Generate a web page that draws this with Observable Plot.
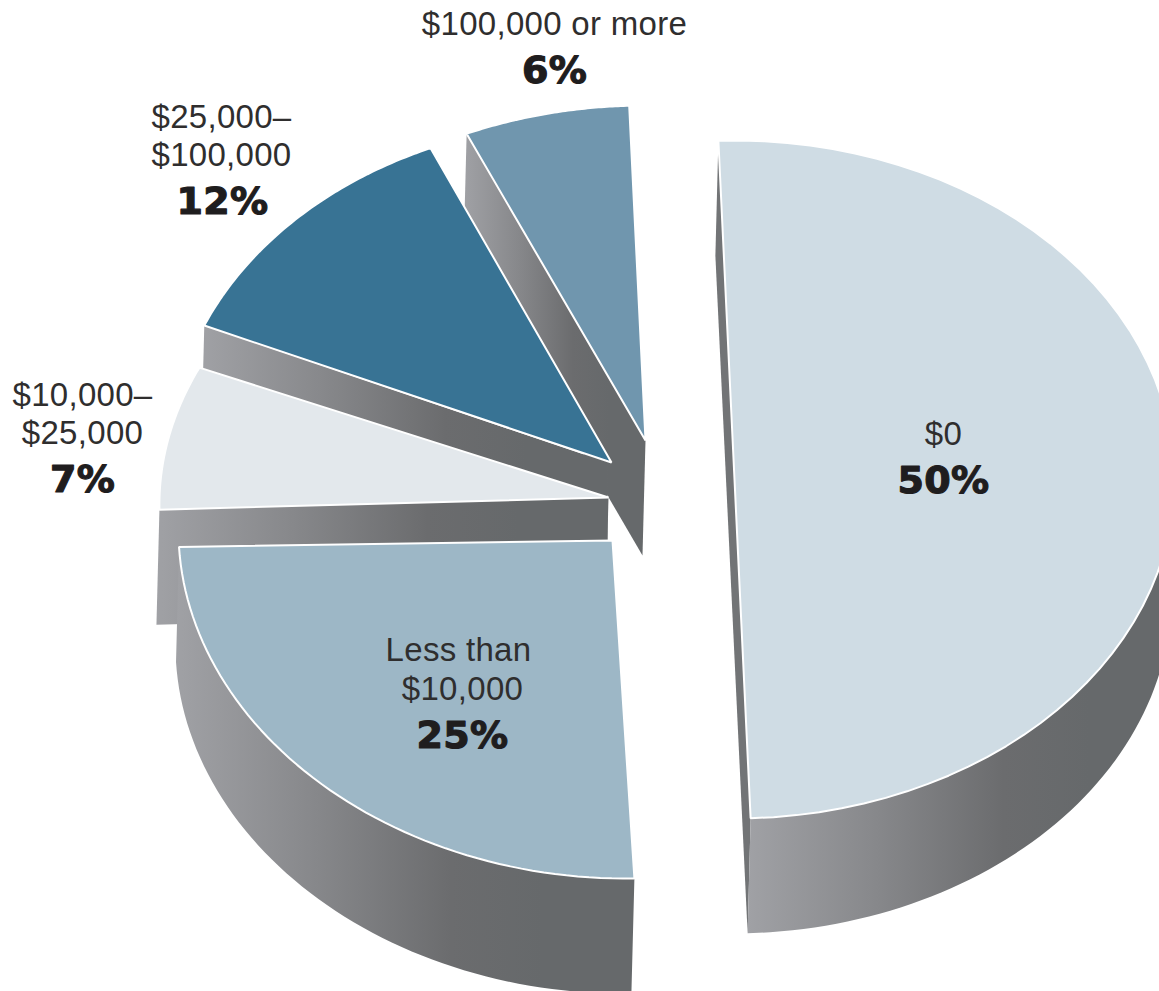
<!DOCTYPE html>
<html>
<head>
<meta charset="utf-8">
<script src="https://cdn.jsdelivr.net/npm/d3@7"></script>
<script src="https://cdn.jsdelivr.net/npm/@observablehq/plot@0.6"></script>
<style>
html,body{margin:0;padding:0;background:#fff;overflow:hidden}
svg{display:block}
</style>
</head>
<body>
<div id="chart"></div>
<script>
// Data
const categories = ["$0", "Less than $10,000", "$10,000–$25,000", "$25,000–$100,000", "$100,000 or more"];
const shares = [50, 25, 7, 12, 6];
const topColors = ["#cfdce4", "#9db7c6", "#e3e8ec", "#387394", "#7096ae"];

// Text lines of the category labels
const labelLines = ["$0", "Less than", "$10,000", "$10,000–", "$25,000", "$25,000–", "$100,000", "$100,000 or more"];
const labelX = [943, 458, 462, 82, 82, 221, 221, 554];
const labelY = [434, 650, 689, 395, 433, 117, 155, 24];
const shareX = [943, 462, 82, 222, 554];
const shareY = [480, 735, 479, 201, 70];

// Layout of the exploded slices (same order as categories)
const startAngle = -2.1;
const apexX = [734, 612, 608, 611, 645];
const apexY = [479, 540, 497, 462, 440];
const radiusX = [440, 434, 449, 441, 445];
const radiusY = [339, 338, 331, 342, 335];
const shearX = [0, -6, 10, -4, 0];
const shearY = [0, 6, 0, 3, 0];
const depth = 115, skew = -3;

const rad = d => d * Math.PI / 180;
let acc = startAngle;
const slices = shares.map((v, i) => {
  const a0 = acc, a1 = acc + v * 3.6;
  acc = a1;
  const arc = (from, to) => d3.range(0, 61).map(k => {
    const t = rad(from + (to - from) * k / 60);
    return {
      x: apexX[i] + radiusX[i] * Math.sin(t) + shearX[i] * Math.cos(t),
      y: apexY[i] - radiusY[i] * Math.cos(t) + shearY[i] * Math.sin(t)
    };
  });
  const apex = {x: apexX[i], y: apexY[i]};
  return {a0, a1, arc, apex, top: [apex, ...arc(a0, a1)], color: topColors[i]};
});

const poly = (pts, opts) => Plot.line(pts, {x: "x", y: "y", curve: "linear-closed", strokeLinejoin: "miter", ...opts});
const shift = p => ({x: p.x + skew, y: p.y + depth});
const gradFill = "url(#sideGrad)";
const topMark = s => poly(s.top, {fill: s.color, stroke: "#fff", strokeWidth: 2});
const face = (pts, f = gradFill) => poly(pts, {fill: f, stroke: "none"});

const [s0, s25, s7, s12, s6] = slices;

// Front rim of a slice between two angles
const rim = (s, from, to) => {
  const upper = s.arc(from, to);
  return [...upper, ...upper.slice().reverse().map(shift)];
};
// Cut face between the apex and the arc end at a given angle
const cut = (s, angle) => {
  const end = s.arc(angle, angle)[0];
  return [s.apex, end, shift(end), shift(s.apex)];
};
// Straight diameter face of the half-pie, seen almost edge-on
const diameter = s => {
  const a = s.arc(s.a0, s.a0)[0], b = s.arc(s.a1, s.a1)[0];
  return [a, shift(a), shift(b), b];
};

const defs = () => {
  const d = d3.create("svg:defs");
  const g = d.append("linearGradient").attr("id", "sideGrad").attr("x1", 0).attr("x2", 1).attr("y1", 0).attr("y2", 0);
  g.append("stop").attr("offset", "0").attr("stop-color", "#a0a1a5");
  g.append("stop").attr("offset", "0.3").attr("stop-color", "#87888b");
  g.append("stop").attr("offset", "0.6").attr("stop-color", "#6b6c6e");
  g.append("stop").attr("offset", "0.8").attr("stop-color", "#66696b");
  g.append("stop").attr("offset", "1").attr("stop-color", "#66696b");
  return d.node();
};

const plot = Plot.plot({
  width: 1159,
  height: 991,
  margin: 0,
  x: {domain: [0, 1159], range: [0, 1159], axis: null},
  y: {domain: [0, 991], range: [0, 991], axis: null},
  style: {background: "#fff", letterSpacing: "0.3px"},
  marks: [
    defs,
    // $0
    face(diameter(s0), "#727476"),
    face(rim(s0, 90, s0.a1)),
    topMark(s0),
    // $100,000 or more
    face(cut(s6, s6.a0)),
    topMark(s6),
    // $25,000–$100,000
    face(cut(s12, s12.a0).map(p => ({x: Math.min(p.x, apexX[2] - 1), y: p.y}))),
    topMark(s12),
    // $10,000–$25,000
    face(cut(s7, s7.a0)),
    topMark(s7),
    // Less than $10,000
    face(rim(s25, s25.a0, s25.a1)),
    topMark(s25),
    Plot.text(labelLines, {
      x: labelX, y: labelY, text: d => d,
      fontFamily: "Liberation Sans", fontSize: 33, fill: "#2f2e2e"
    }),
    Plot.text(shares, {
      x: shareX, y: shareY, text: d => d + "%",
      fontFamily: "DejaVu Sans", fontWeight: "bold", fontSize: 38, fill: "#1f1d1e",
      stroke: "#1f1d1e", strokeWidth: 1.2
    })
  ]
});
document.getElementById("chart").appendChild(plot);
</script>
</body>
</html>
